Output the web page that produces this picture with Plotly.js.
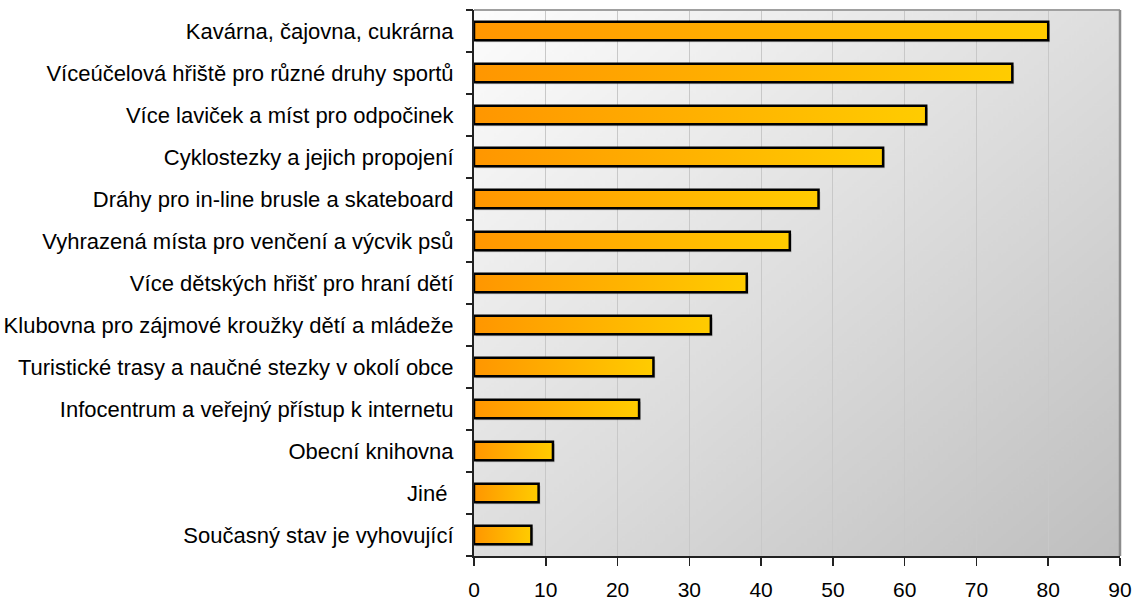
<!DOCTYPE html>
<html>
<head>
<meta charset="utf-8">
<script src="https://cdn.plot.ly/plotly-3.0.1.min.js"></script>
<style>html,body{margin:0;padding:0;background:#fff;}#chart{width:1136px;height:605px;}</style>
</head>
<body>
<div id="chart"></div>
<script>
const categories = [
  "Kavárna, čajovna, cukrárna",
  "Víceúčelová hřiště pro různé druhy sportů",
  "Více laviček a míst pro odpočinek",
  "Cyklostezky a jejich propojení",
  "Dráhy pro in-line brusle a skateboard",
  "Vyhrazená místa pro venčení a výcvik psů",
  "Více dětských hřišť pro hraní dětí",
  "Klubovna pro zájmové kroužky dětí a mládeže",
  "Turistické trasy a naučné stezky v okolí obce",
  "Infocentrum a veřejný přístup k internetu",
  "Obecní knihovna",
  "Jiné ",
  "Současný stav je vyhovující"
];
const values = [80, 75, 63, 57, 48, 44, 38, 33, 25, 23, 11, 9, 8];
const xTicks = [0, 10, 20, 30, 40, 50, 60, 70, 80, 90];

const n = categories.length;
const half = 0.22;
const idx = categories.map((c, i) => i);
const boundaries = [];
for (let i = 0; i <= n; i++) boundaries.push(i - 0.5);

// background gradient image (square, stretched over plot area)
const cv = document.createElement('canvas');
cv.width = 512; cv.height = 512;
const ctx = cv.getContext('2d');
const g = ctx.createLinearGradient(0, 0, 512, 512);
g.addColorStop(0, '#fdfdfd');
g.addColorStop(1, '#bfbfbf');
ctx.fillStyle = g;
ctx.fillRect(0, 0, 512, 512);
const bgUrl = cv.toDataURL('image/png');

const traces = [];
// shadows
values.forEach((v, i) => {
  traces.push({
    type: 'scatter', mode: 'lines',
    x: [0.25, v + 0.25, v + 0.25, 0.25, 0.25],
    y: [i - half + 0.05, i - half + 0.05, i + half + 0.05, i + half + 0.05, i - half + 0.05],
    fill: 'toself', fillcolor: 'rgba(0,0,0,0.18)',
    line: {width: 0}, hoverinfo: 'skip', showlegend: false
  });
});
values.forEach((v, i) => {
  traces.push({
    type: 'scatter', mode: 'lines',
    x: [0, v, v, 0, 0],
    y: [i - half, i - half, i + half, i + half, i - half],
    fill: 'toself',
    fillgradient: {type: 'horizontal', colorscale: [[0, '#ff9600'], [1, '#ffcc00']]},
    line: {color: '#000000', width: 2.5},
    hoverinfo: 'skip', showlegend: false
  });
});
// carrier for boundary tick axis
traces.push({type: 'scatter', mode: 'markers', x: [0], y: [0], yaxis: 'y2',
  marker: {opacity: 0}, hoverinfo: 'skip', showlegend: false});

const layout = {
  width: 1136, height: 605,
  margin: {l: 474, r: 16, t: 10, b: 49},
  paper_bgcolor: '#ffffff',
  plot_bgcolor: 'rgba(0,0,0,0)',
  font: {family: '"Liberation Sans", Arial, sans-serif', color: '#000', size: 22},
  showlegend: false,
  xaxis: {
    range: [0, 90], tickvals: xTicks, ticktext: xTicks.map(String),
    showgrid: true, gridcolor: '#c8c8c8', gridwidth: 1,
    zeroline: false,
    showline: true, linecolor: '#222', linewidth: 2,
    ticks: 'outside', ticklen: 8, tickcolor: '#222', tickwidth: 1.5,
    ticklabelstandoff: 6,
    tickfont: {size: 21}, fixedrange: true
  },
  yaxis: {
    range: [n - 0.5, -0.5], tickvals: idx, ticktext: categories,
    showgrid: false, zeroline: false,
    showline: true, linecolor: '#222', linewidth: 2,
    ticks: '', ticklabelstandoff: 14,
    tickfont: {size: 22}, fixedrange: true
  },
  yaxis2: {
    overlaying: 'y', side: 'left', anchor: 'x',
    range: [n - 0.5, -0.5], tickvals: boundaries,
    showticklabels: false, showgrid: false, zeroline: false, showline: false,
    ticks: 'outside', ticklen: 7, tickcolor: '#222', tickwidth: 1.5,
    fixedrange: true
  },
  images: [{
    source: bgUrl, xref: 'paper', yref: 'paper', x: 0, y: 1,
    sizex: 1, sizey: 1, sizing: 'stretch', layer: 'below'
  }],
  shapes: [
    {type: 'line', xref: 'paper', yref: 'paper', x0: 0, x1: 1, y0: 1, y1: 1, line: {color: '#a0a0a0', width: 2}},
    {type: 'line', xref: 'paper', yref: 'paper', x0: 1, x1: 1, y0: 0, y1: 1, line: {color: '#8c8c8c', width: 2.5}}
  ]
};

Plotly.newPlot('chart', traces, layout, {displayModeBar: false, staticPlot: true});
</script>
</body>
</html>
